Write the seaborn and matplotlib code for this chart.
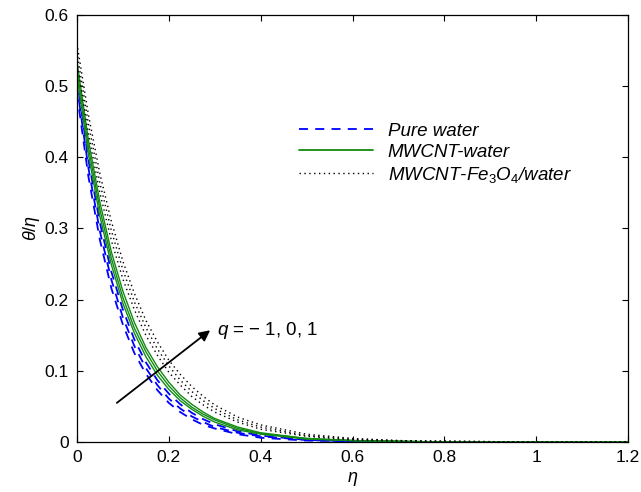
import matplotlib
matplotlib.use('Agg')
import matplotlib.pyplot as plt
from matplotlib.lines import Line2D
from matplotlib.ticker import FuncFormatter
import seaborn as sns
import pandas as pd

# eta grid
eta = [0, 0.025, 0.05, 0.075, 0.1, 0.125, 0.15, 0.175, 0.2, 0.225, 0.25, 0.275,
       0.3, 0.35, 0.4, 0.5, 0.6, 0.7, 0.8, 1.0, 1.2]

# Pure water, q = -1, 0, 1
water_qm1 = [0.490, 0.373, 0.284, 0.216, 0.165, 0.125, 0.096, 0.073, 0.055, 0.042, 0.032,
             0.024, 0.019, 0.011, 0.006, 0.002, 0.001, 0.000, 0.000, 0.000, 0.000]
water_q0 = [0.500, 0.385, 0.296, 0.228, 0.175, 0.135, 0.104, 0.080, 0.061, 0.047, 0.036,
            0.028, 0.021, 0.013, 0.008, 0.003, 0.001, 0.000, 0.000, 0.000, 0.000]
water_q1 = [0.510, 0.396, 0.308, 0.239, 0.186, 0.144, 0.112, 0.087, 0.068, 0.053, 0.041,
            0.032, 0.025, 0.015, 0.009, 0.003, 0.001, 0.000, 0.000, 0.000, 0.000]

# MWCNT-water
mwcnt_qm1 = [0.515, 0.404, 0.317, 0.249, 0.195, 0.153, 0.120, 0.094, 0.074, 0.058, 0.046,
             0.036, 0.028, 0.017, 0.011, 0.004, 0.002, 0.001, 0.000, 0.000, 0.000]
mwcnt_q0 = [0.525, 0.414, 0.327, 0.258, 0.203, 0.160, 0.127, 0.100, 0.079, 0.062, 0.049,
            0.039, 0.031, 0.019, 0.012, 0.005, 0.002, 0.001, 0.000, 0.000, 0.000]
mwcnt_q1 = [0.535, 0.424, 0.337, 0.267, 0.212, 0.168, 0.133, 0.106, 0.084, 0.066, 0.053,
            0.042, 0.033, 0.021, 0.013, 0.005, 0.002, 0.001, 0.000, 0.000, 0.000]

# MWCNT-Fe3O4/water
hybrid_qm1 = [0.535, 0.433, 0.350, 0.283, 0.229, 0.186, 0.150, 0.122, 0.098, 0.080, 0.064,
              0.052, 0.042, 0.028, 0.018, 0.008, 0.003, 0.001, 0.001, 0.000, 0.000]
hybrid_q0 = [0.548, 0.447, 0.364, 0.297, 0.242, 0.197, 0.161, 0.131, 0.107, 0.087, 0.071,
             0.058, 0.047, 0.031, 0.021, 0.009, 0.004, 0.002, 0.001, 0.000, 0.000]
hybrid_q1 = [0.560, 0.460, 0.377, 0.310, 0.254, 0.209, 0.171, 0.141, 0.115, 0.095, 0.078,
             0.064, 0.052, 0.035, 0.024, 0.011, 0.005, 0.002, 0.001, 0.000, 0.000]

fluids = ['Pure water', 'MWCNT-water', 'MWCNT-Fe3O4/water']
q_values = [-1, 0, 1]
curves = {
    'Pure water': [water_qm1, water_q0, water_q1],
    'MWCNT-water': [mwcnt_qm1, mwcnt_q0, mwcnt_q1],
    'MWCNT-Fe3O4/water': [hybrid_qm1, hybrid_q0, hybrid_q1],
}

rows = []
for fluid in fluids:
    for q, vals in zip(q_values, curves[fluid]):
        for e, v in zip(eta, vals):
            rows.append({'eta': e, 'theta': v, 'fluid': fluid, 'q': q})
df = pd.DataFrame(rows)

sns.set_theme(style='ticks')
plt.rcParams['font.family'] = ['Liberation Sans', 'DejaVu Sans']
plt.rcParams['mathtext.fontset'] = 'custom'
plt.rcParams['mathtext.rm'] = 'Liberation Sans'
plt.rcParams['mathtext.it'] = 'Liberation Sans:italic'
plt.rcParams['text.color'] = 'black'
plt.rcParams['axes.labelcolor'] = 'black'

colors = {'Pure water': '#0000ff', 'MWCNT-water': '#138a13', 'MWCNT-Fe3O4/water': '#000000'}
dashes = {'Pure water': (5, 4), 'MWCNT-water': '', 'MWCNT-Fe3O4/water': (1, 2.5)}
widths = {'Pure water': 1.3, 'MWCNT-water': 1.0, 'MWCNT-Fe3O4/water': 1.0}

fig = plt.figure(figsize=(6.41, 4.92), dpi=100)
ax = fig.add_axes([0.120, 0.1016, 0.860, 0.868])

for fluid in fluids:
    sub = df[df['fluid'] == fluid]
    sns.lineplot(data=sub, x='eta', y='theta', units='q', estimator=None,
                 color=colors[fluid], linewidth=widths[fluid], ax=ax,
                 legend=False, sort=False)
    # set the dash pattern on the three curves just drawn
    for line in ax.lines[-3:]:
        if dashes[fluid]:
            line.set_dashes(dashes[fluid])

ax.set_xlim(0, 1.2)
ax.set_ylim(0, 0.6)
ax.set_xticks([0, 0.2, 0.4, 0.6, 0.8, 1.0, 1.2])
ax.set_yticks([0, 0.1, 0.2, 0.3, 0.4, 0.5, 0.6])
fmt = FuncFormatter(lambda v, p: f'{v:g}')
ax.xaxis.set_major_formatter(fmt)
ax.yaxis.set_major_formatter(fmt)
ax.tick_params(direction='in', top=True, right=True, length=4, width=0.8,
               labelsize=12.5, colors='black', pad=6)
for s in ax.spines.values():
    s.set_linewidth(0.9)
    s.set_color('black')

ax.set_xlabel(r'$\eta$', fontsize=13, labelpad=3)
ax.set_ylabel(r'$\theta/\eta$', fontsize=13, labelpad=2)

handles = [
    Line2D([], [], color=colors['Pure water'], lw=1.3, dashes=(5, 4)),
    Line2D([], [], color=colors['MWCNT-water'], lw=1.3),
    Line2D([], [], color=colors['MWCNT-Fe3O4/water'], lw=1.0, dashes=(1, 2.5)),
]
labels = ['Pure water', 'MWCNT-water', r'MWCNT-Fe$_\mathit{3}$O$_\mathit{4}$/water']
leg = ax.legend(handles, labels, loc='upper left', bbox_to_anchor=(0.39, 0.765),
                frameon=False, handlelength=3.9, handletextpad=0.8,
                labelspacing=0.2, fontsize=13.5, borderaxespad=0)
for t in leg.get_texts():
    t.set_fontstyle('italic')
    t.set_color('black')

ax.annotate('', xy=(0.29, 0.157), xytext=(0.087, 0.055),
            arrowprops=dict(arrowstyle='-|>', color='black', lw=1.3,
                            mutation_scale=16, shrinkA=0, shrinkB=0))
ax.text(0.305, 0.157, r'$q$ = $-$ 1, 0, 1', fontsize=13.5, va='center', ha='left',
        color='black')

fig.savefig('out.png', dpi=100)
